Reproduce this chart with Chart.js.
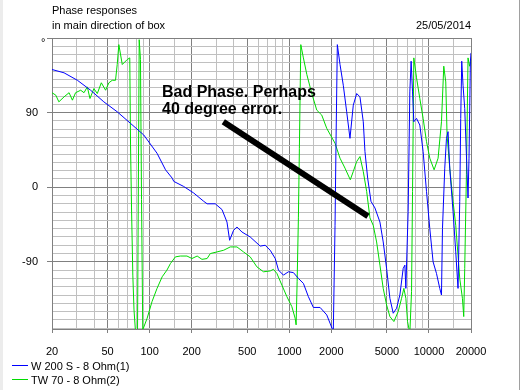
<!DOCTYPE html>
<html>
<head>
<meta charset="utf-8">
<script src="https://cdn.jsdelivr.net/npm/chart.js@4"></script>
<style>
  html, body { margin: 0; padding: 0; background: #fff; }
  #wrap { width: 520px; height: 390px; }
</style>
</head>
<body>
<div id="wrap"><canvas id="phaseChart" width="520" height="390"></canvas></div>
<script>
// phase responses (Hz / degrees)
const blueHz = [20, 24.4, 30.4, 37.8, 47, 58.6, 73, 90.8, 113, 130,
  145, 149, 175, 207, 244, 258, 295, 330, 358, 374,
  399, 422, 458, 525, 619, 672, 730, 793, 837, 908,
  986, 1071, 1162, 1262, 1370, 1487, 1661, 1854, 1958, 2066,
  2126, 2162, 2208, 2308, 2436, 2576, 2720, 2872, 3038, 3206,
  3386, 3482, 3640, 3844, 4104, 4456, 4704, 4974, 5252, 5548,
  5864, 6190, 6538, 6722, 6834, 7096, 7296, 7454, 7628, 7792,
  8148, 8602, 9082, 9604, 10140, 10708, 11324, 11952, 12292, 12496,
  12976, 13348, 13702, 14092, 14876, 15552, 16150, 16612, 16886, 17168,
  17540, 18034, 18542, 19040, 19354, 19802, 20000];
const blueDeg = [142, 138, 129, 117, 103, 91, 77, 63, 41, 21,
  11, 7, 1, -7, -17, -20, -20, -27, -42, -64,
  -52, -48, -54, -60, -71, -70, -76, -86, -100, -106,
  -102, -103, -110, -116, -132, -145, -145, -154, -164, -174,
  -46, 57, 172, 148, 123, 91, 59, 99, 113, 109,
  79, 43, 11, -17, -25, -42, -66, -98, -134, -152,
  -146, -130, -98, -94, -122, -29, 115, 152, 115, 79,
  83, 75, 43, -5, -50, -90, -104, -122, -130, -50,
  23, 59, 67, 23, -29, -78, -122, -17, 83, 152,
  123, 95, 39, -13, 35, 152, 162];

const greenHz = [20, 21.3, 22.4, 24.4, 26.5, 28, 29.5, 32.1, 33.9, 35.8,
  37.4, 39.9, 42.2, 45.1, 48.4, 51.1, 54, 57, 58.6, 60.2,
  63.7, 69.1, 72.1, 73, 74.2, 75.8, 77.3, 79.2, 81.9, 84.2,
  86, 87.5, 89.3, 96, 104, 113, 123, 133, 141, 153,
  166, 185, 201, 219, 237, 258, 272, 304, 339, 378,
  422, 470, 525, 586, 654, 730, 770, 815, 885, 961,
  1043, 1101, 1119, 1138, 1162, 1181, 1209, 1262, 1335, 1449,
  1573, 1708, 1854, 2126, 2308, 2506, 2734, 2872, 3038, 3206,
  3386, 3580, 3780, 3990, 4220, 4456, 4704, 4974, 5252, 5608,
  6020, 6366, 6612, 6834, 7026, 7296, 7504, 7628, 7792, 8148,
  8602, 9082, 9604, 10140, 10884, 11624, 12292, 12766, 13192, 13480,
  14092, 14876, 15552, 16150, 16612, 17366, 17742, 18034, 18542, 19040,
  19544, 20000];
const greenDeg = [114, 111, 103, 109, 114, 105, 114, 117, 114, 121,
  107, 119, 113, 126, 117, 126, 129, 129, 148, 172,
  148, 154, 156, 51, -25, -106, -148, -174, -174, 178,
  154, -15, -172, -158, -138, -122, -108, -100, -92, -84,
  -83, -83, -86, -83, -87, -86, -80, -78, -76, -72,
  -72, -78, -84, -96, -102, -101, -99, -104, -118, -132,
  -144, -158, -166, -114, -37, 47, 172, 156, 136, 113,
  93, 87, 71, 53, 35, 23, 9, 19, 31, 37,
  19, -5, -37, -46, -66, -94, -122, -142, -156, -162,
  -150, -134, -122, -134, -162, -176, -126, -5, 156, 132,
  107, 83, 55, 35, 21, 35, 79, 146, 127, 63,
  23, -17, -46, -82, -110, -134, -156, -98, 15, 156,
  146, 154];

const seriesNames = ['W 200 S - 8 Ohm(1)', 'TW 70 - 8 Ohm(2)'];

// axes
const xGrid = [20, 30, 40, 50, 60, 70, 80, 90, 100, 150, 200, 300, 400, 500, 600, 700, 800, 900,
  1000, 1500, 2000, 3000, 4000, 5000, 6000, 7000, 8000, 9000, 10000, 15000, 20000];
const xLabels = [20, 50, 100, 200, 500, 1000, 2000, 5000, 10000, 20000];
const yGrid = [-170, -160, -150, -140, -130, -120, -110, -100, -90, -80, -70, -60, -50, -40, -30, -20, -10,
  0, 10, 20, 30, 40, 50, 60, 70, 80, 90, 100, 110, 120, 130, 140, 150, 160, 170, 180];
const yMajor = [-90, 0, 90, 180];
const yLabels = [-90, 0, 90];

// the hand drawn note (from / to, in Hz and degrees)
const noteHz = [337, 3658];
const noteDeg = [79, -35];
const noteText = ['Bad Phase. Perhaps', '40 degree error.'];

const BLUE = '#0000ff', GREEN = '#00dc00';
const FONT = '"Liberation Sans", Arial, sans-serif';

const extras = {
  id: 'extras',
  beforeDraw(chart) {
    const c = chart.ctx;
    c.save();
    c.fillStyle = '#fff';
    c.fillRect(0, 0, chart.width, chart.height);
    c.fillStyle = '#ececec';
    c.fillRect(0, 0, 3, chart.height);
    c.fillStyle = '#a0a0a0';
    c.fillRect(chart.width - 1, 0, 1, chart.height);
    c.restore();
  },
  afterDraw(chart) {
    const c = chart.ctx, x = chart.scales.x, y = chart.scales.y, a = chart.chartArea;
    c.save();
    c.fillStyle = '#000';
    c.font = '11px ' + FONT;
    c.textBaseline = 'alphabetic';
    c.textAlign = 'left';
    c.fillText('Phase responses', a.left, 14);
    c.fillText('in main direction of box', a.left, 29);
    c.fillText('\u00b0', 41, 46);
    c.textAlign = 'right';
    c.fillText('25/05/2014', a.right, 29);

    // legend
    c.textAlign = 'left';
    [BLUE, GREEN].forEach((col, i) => {
      const ly = 365.5 + i * 14;
      c.strokeStyle = col;
      c.lineWidth = 1;
      c.beginPath(); c.moveTo(12, ly); c.lineTo(28, ly); c.stroke();
      c.fillStyle = '#000';
      c.fillText(seriesNames[i], 31, ly + 4);
    });

    // note line
    c.strokeStyle = '#000';
    c.lineWidth = 6;
    c.beginPath();
    c.moveTo(x.getPixelForValue(noteHz[0]), y.getPixelForValue(noteDeg[0]));
    c.lineTo(x.getPixelForValue(noteHz[1]), y.getPixelForValue(noteDeg[1]));
    c.stroke();

    c.font = 'bold 16px ' + FONT;
    c.fillStyle = '#000';
    c.fillText(noteText[0], 162, 96.5);
    c.fillText(noteText[1], 162, 114);
    c.restore();
  }
};

const pts = (hz, deg) => hz.map((f, i) => ({ x: f, y: deg[i] }));

new Chart(document.getElementById('phaseChart').getContext('2d'), {
  type: 'line',
  data: {
    datasets: [
      { label: seriesNames[0], data: pts(blueHz, blueDeg), borderColor: BLUE, borderWidth: 1, pointRadius: 0, tension: 0, fill: false },
      { label: seriesNames[1], data: pts(greenHz, greenDeg), borderColor: GREEN, borderWidth: 1, pointRadius: 0, tension: 0, fill: false }
    ]
  },
  options: {
    responsive: false,
    animation: false,
    events: [],
    layout: { padding: { left: 0, top: 38, right: 49, bottom: 0 } },
    plugins: { legend: { display: false }, tooltip: { enabled: false }, title: { display: false } },
    scales: {
      x: {
        type: 'logarithmic', min: 20, max: 20000,
        afterBuildTicks: s => { s.ticks = xGrid.map(v => ({ value: v })); },
        afterFit: s => { s.height = 61; },
        border: { color: '#808080' },
        grid: {
          color: ctx => (ctx.tick && xLabels.includes(ctx.tick.value)) ? '#808080' : '#c0c0c0',
          tickColor: ctx => (ctx.tick && xLabels.includes(ctx.tick.value)) ? '#808080' : 'rgba(0,0,0,0)',
          tickLength: 4
        },
        ticks: {
          autoSkip: false, maxRotation: 0, minRotation: 0, padding: 12,
          color: '#000', font: { family: FONT, size: 11 },
          callback: v => xLabels.includes(v) ? String(v) : ''
        }
      },
      y: {
        type: 'linear', min: -171, max: 180,
        afterBuildTicks: s => { s.ticks = yGrid.map(v => ({ value: v })); },
        afterFit: s => { s.width = 52; },
        border: { color: '#808080' },
        grid: {
          color: ctx => (ctx.tick && yMajor.includes(ctx.tick.value)) ? '#808080' : '#c0c0c0',
          tickColor: ctx => (ctx.tick && yMajor.includes(ctx.tick.value)) ? '#808080' : 'rgba(0,0,0,0)',
          tickLength: 5
        },
        ticks: {
          autoSkip: false, padding: 9,
          color: '#000', font: { family: FONT, size: 11 },
          callback: v => yLabels.includes(v) ? String(v) : ''
        }
      }
    }
  },
  plugins: [extras]
});
</script>
</body>
</html>
